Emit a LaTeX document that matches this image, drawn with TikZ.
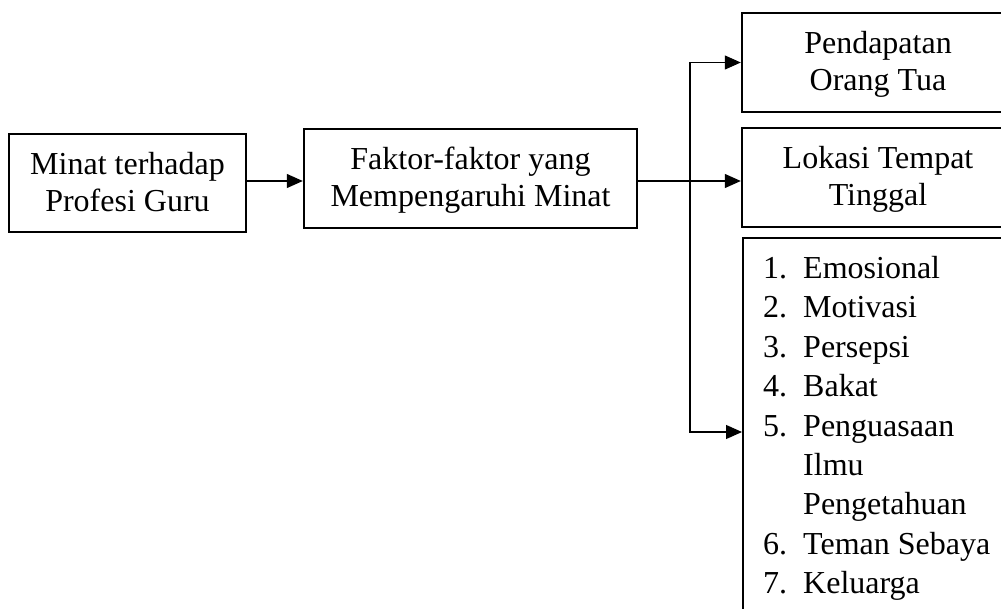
\documentclass[tikz,border=0pt]{standalone}
\usepackage{fontspec}
\setmainfont{Liberation Serif}
\usetikzlibrary{arrows.meta}
\tikzset{
  box/.style={draw, line width=2.4pt, inner sep=0pt, align=center, font=\fontsize{32}{37}\selectfont},
  conn/.style={line width=1.2pt},
  arr/.style={line width=1.2pt, -{Triangle[length=16pt,width=14pt]}},
}
\begin{document}
\begin{tikzpicture}[x=1pt,y=-1pt]
\useasboundingbox (0,0) rectangle (1001,608);
\clip (0,0) rectangle (1001,608);
\node[box, minimum width=237pt, minimum height=98pt, text depth=3pt] (b1) at (127.5,183) {Minat terhadap\\Profesi Guru};
\node[box, minimum width=333pt, minimum height=99pt, text depth=3pt] (b2) at (470.5,178.5) {Faktor-faktor yang\\Mempengaruhi Minat};
\node[box, minimum width=272pt, minimum height=99pt, text depth=3pt] (b3) at (878,62.5) {Pendapatan\\Orang Tua};
\node[box, minimum width=272pt, minimum height=99pt, text depth=3pt] (b4) at (878,177.5) {Lokasi Tempat\\Tinggal};
\node[box, minimum width=272pt, minimum height=420pt, anchor=north west] (b5) at (742,237) {};
\node[anchor=north west, inner sep=0pt, align=left, font=\fontsize{32}{39.4}\selectfont] (list) at (763,256) {%
\makebox[40pt][l]{1.}Emosional\\
\makebox[40pt][l]{2.}Motivasi\\
\makebox[40pt][l]{3.}Persepsi\\
\makebox[40pt][l]{4.}Bakat\\
\makebox[40pt][l]{5.}Penguasaan\\
\makebox[40pt][l]{}Ilmu\\
\makebox[40pt][l]{}Pengetahuan\\
\makebox[40pt][l]{6.}Teman Sebaya\\
\makebox[40pt][l]{7.}Keluarga};
\coordinate (ya) at (0,181);
\coordinate (j) at (690,181);
\coordinate (t5) at (742,432);
\draw[arr] (b1.east |- ya) -- (b2.west |- ya);
\draw[conn] (b2.east |- j) -- (j);
\draw[arr] (j) -- (b4.west |- j);
\draw[arr] (j) |- (b3.west);
\draw[arr] (j) |- (b5.west |- t5);
\end{tikzpicture}
\end{document}
